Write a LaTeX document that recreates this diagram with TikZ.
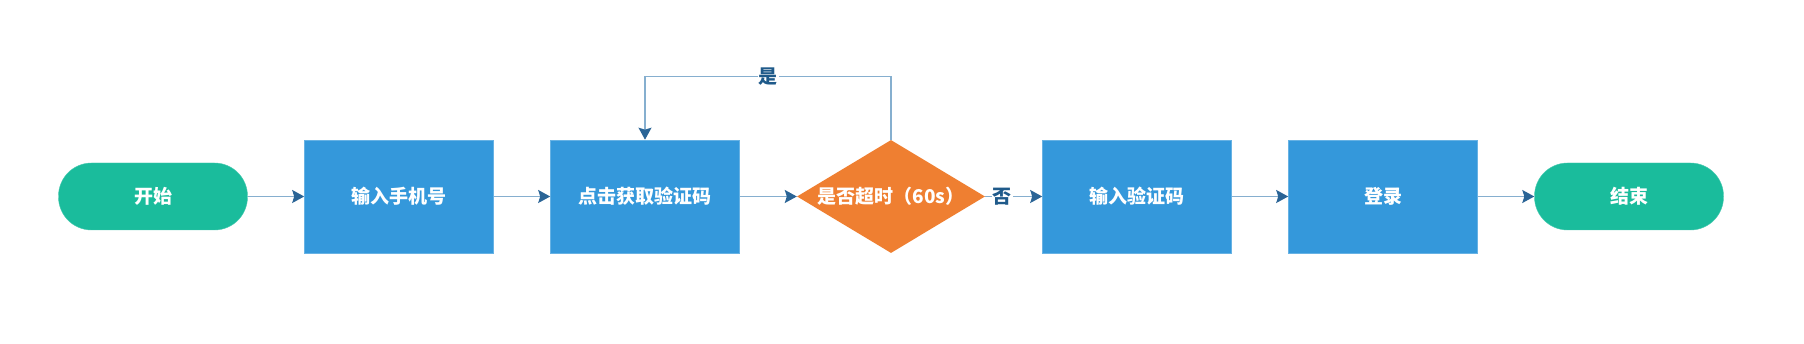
\documentclass[tikz,border=0pt]{standalone}
\usepackage{fontspec}
\setmainfont{Noto Sans CJK SC}
\usetikzlibrary{shapes.geometric, arrows.meta}
\definecolor{termgreen}{HTML}{1ABC9C}
\definecolor{stepblue}{HTML}{3498DB}
\definecolor{checkorange}{HTML}{EF7F31}
\definecolor{linkblue}{HTML}{86AFCF}
\definecolor{tipblue}{HTML}{2A6496}
\definecolor{labelblue}{HTML}{1F5A8A}

\tikzset{
  term/.style={rectangle, rounded corners=33pt, fill=termgreen, draw=termgreen!80!white,
    minimum width=189pt, minimum height=67pt, text=white, font=\fontsize{19}{21}\selectfont\bfseries},
  stepbox/.style={rectangle, fill=stepblue, draw=stepblue!75!white, line width=0.6pt,
    minimum width=189pt, minimum height=113pt, text=white, font=\fontsize{19}{21}\selectfont\bfseries},
  check/.style={diamond, aspect=1.66, inner sep=0pt, fill=checkorange,
    minimum width=188pt, minimum height=113pt, text=white, font=\fontsize{19}{21}\selectfont\bfseries},
  flow/.style={draw=linkblue, line width=1.4pt,
    -{Stealth[inset=2pt, length=12pt, width=13pt, color=tipblue]}},
  answer/.style={fill=white, inner sep=1pt, text=labelblue, font=\fontsize{19}{21}\selectfont\bfseries}
}

\begin{document}
\begin{tikzpicture}[x=1pt, y=1pt]
  \useasboundingbox (0,0) rectangle (1804,344);
  % main row
  \node[term]    (start) at (153,147.5)  {开始};
  \node[stepbox] (phone) at (399,147.5)  {输入手机号};
  \node[stepbox] (fetch) at (645,147.5)  {点击获取验证码};
  \node[check]   (timeout) at (891,147.5) {是否超时（60s）};
  \node[stepbox] (code)  at (1137,147.5) {输入验证码};
  \node[stepbox] (login) at (1383,147.5) {登录};
  \node[term]    (stop)  at (1629,147.5) {结束};

  \draw[flow] (start) -- (phone);
  \draw[flow] (phone) -- (fetch);
  \draw[flow] (fetch) -- (timeout);
  \draw[flow] (timeout) -- node[answer, pos=0.3] {否} (code);
  \draw[flow] (code) -- (login);
  \draw[flow] (login) -- (stop);
  % retry loop
  \draw[flow] (timeout.north) -- ++(0,63.5) -| node[answer, pos=0.25] {是} (fetch.north);
\end{tikzpicture}
\end{document}
